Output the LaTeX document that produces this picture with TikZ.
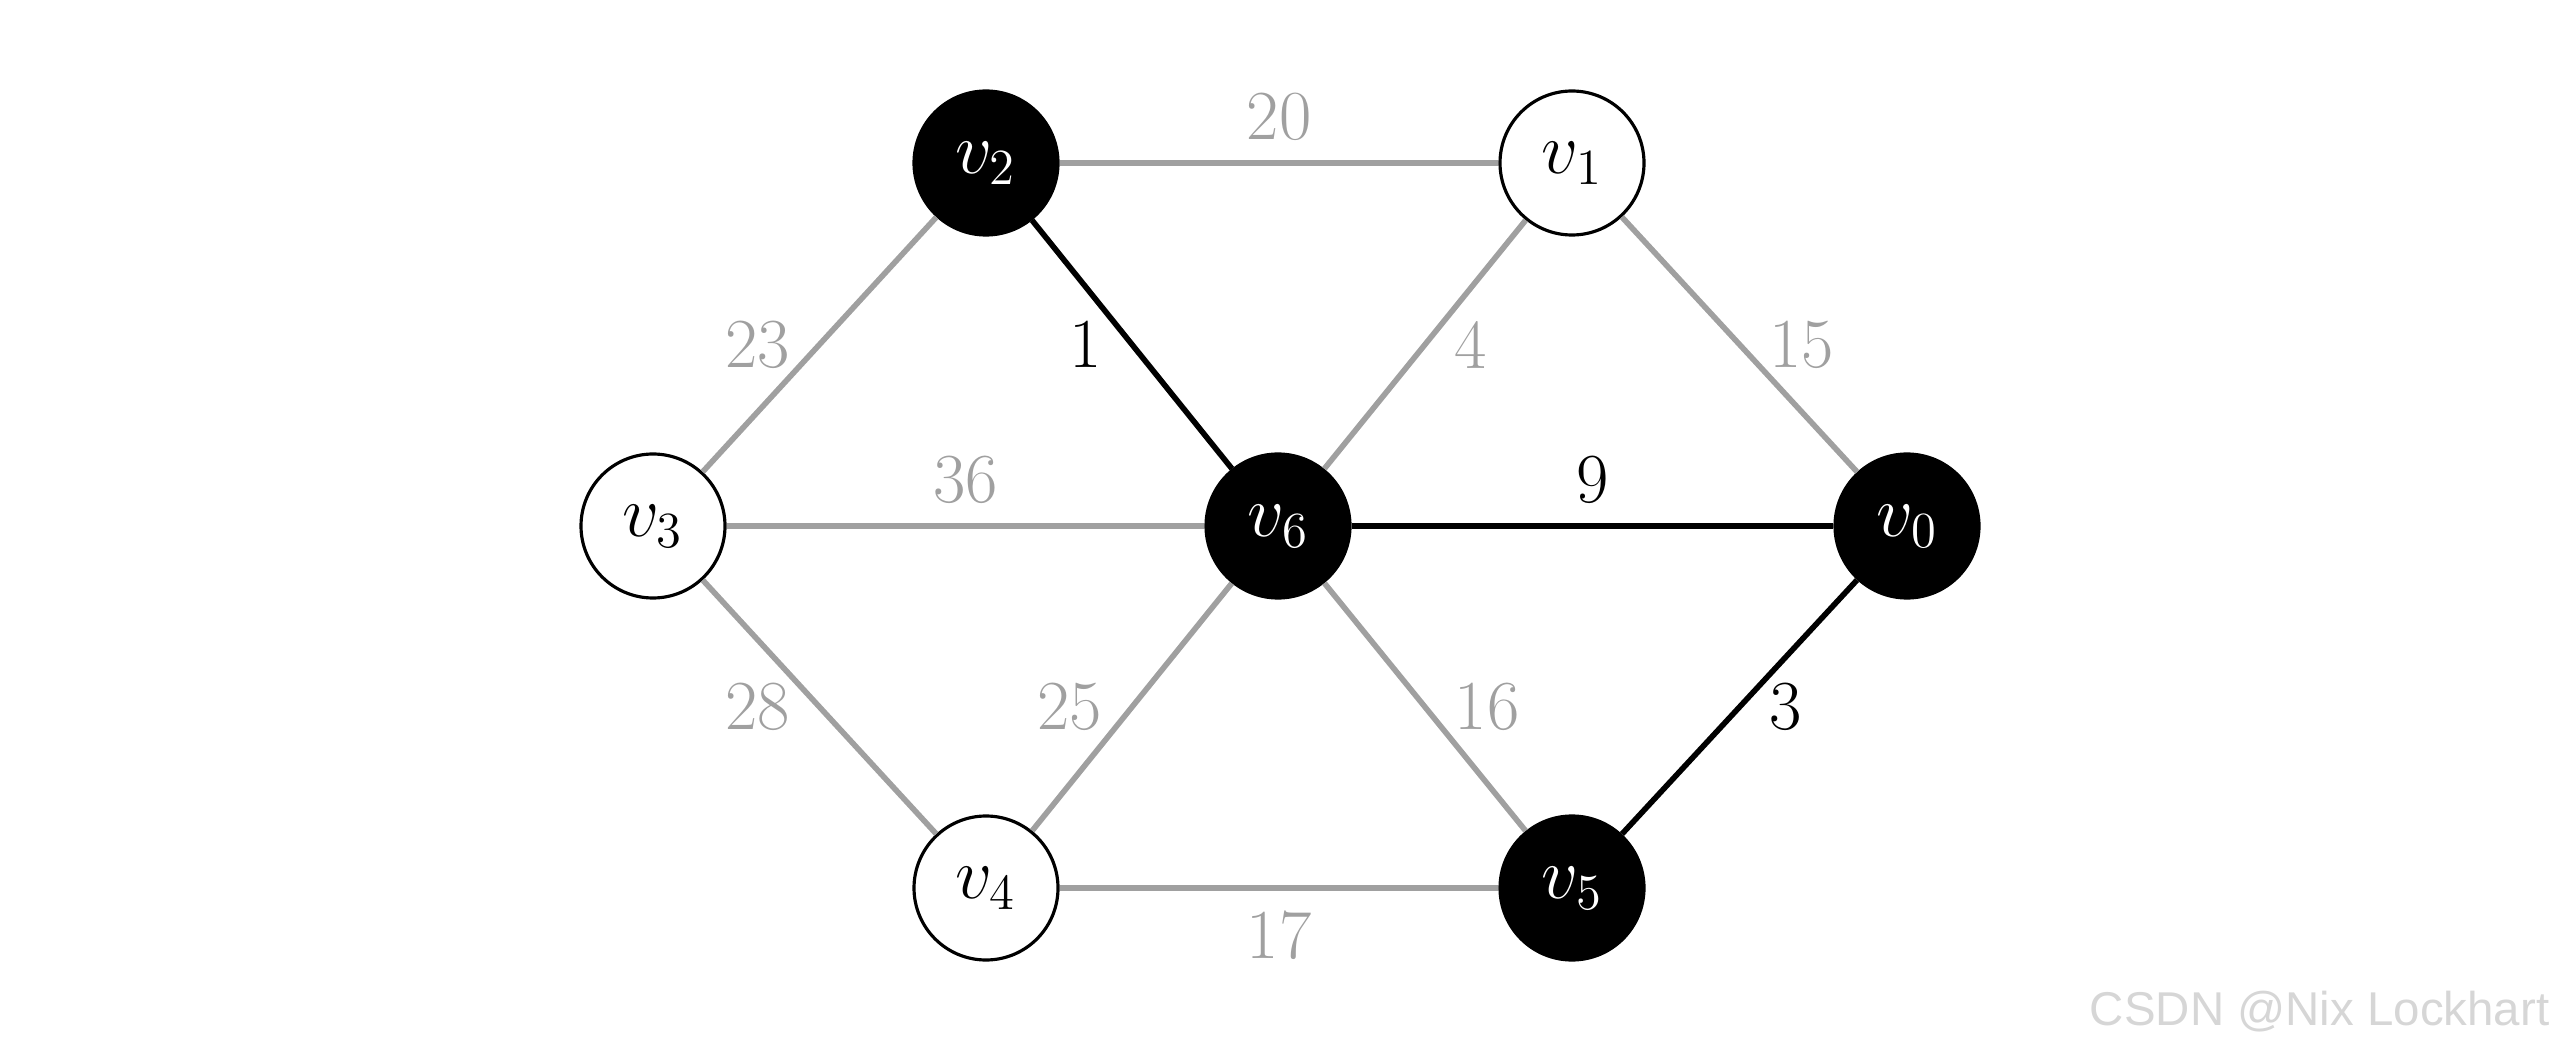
\documentclass[tikz,border=0pt]{standalone}
\usepackage{fontspec}
\usepackage{amsmath}
\usetikzlibrary{positioning}
\newfontfamily\markfont{Liberation Sans}
\definecolor{edgegray}{HTML}{A0A0A0}
\definecolor{markgray}{HTML}{D6D6D6}

\begin{document}
\begin{tikzpicture}[
  every node/.style={font=\fontsize{20}{24}\selectfont},
  vertex/.style={
    circle,
    draw=black,
    line width=0.9pt,
    fill=white,
    minimum size=1.44cm,
    inner sep=0pt
  },
  chosen/.style={vertex, fill=black, text=white},
  edge/.style={draw=edgegray, line width=1.6pt},
  tree/.style={draw=black, line width=1.6pt},
  wlabel/.style={text=edgegray, inner xsep=0.27cm, inner ysep=0.2cm},
  tlabel/.style={text=black, inner xsep=0.27cm, inner ysep=0.2cm}
]
  \useasboundingbox (0,0) rectangle (25.6,10.53);

  \node[chosen] (v2) at (9.86,8.90)  {$v_{2}$};
  \node[vertex] (v1) at (15.72,8.90) {$v_{1}$};
  \node[vertex] (v3) at (6.53,5.27)  {$v_{3}$};
  \node[chosen] (v6) at (12.78,5.27) {$v_{6}$};
  \node[chosen] (v0) at (19.07,5.27) {$v_{0}$};
  \node[vertex] (v4) at (9.86,1.65)  {$v_{4}$};
  \node[chosen] (v5) at (15.72,1.65) {$v_{5}$};

  % gray edges
  \draw[edge] (v2) -- node[wlabel, midway, above] {20} (v1);
  \draw[edge] (v3) -- node[wlabel, midway, left]  {23} (v2);
  \draw[edge] (v6) -- node[wlabel, midway, right] {4}  (v1);
  \draw[edge] (v1) -- node[wlabel, midway, right] {15} (v0);
  \draw[edge] (v3) -- node[wlabel, midway, above] {36} (v6);
  \draw[edge] (v3) -- node[wlabel, midway, left]  {28} (v4);
  \draw[edge] (v4) -- node[wlabel, midway, left]  {25} (v6);
  \draw[edge] (v6) -- node[wlabel, midway, right] {16} (v5);
  \draw[edge] (v4) -- node[wlabel, midway, below] {17} (v5);

  % black edges
  \draw[tree] (v2) -- node[tlabel, midway, left]  {1} (v6);
  \draw[tree] (v6) -- node[tlabel, midway, above] {9} (v0);
  \draw[tree] (v5) -- node[tlabel, midway, right] {3} (v0);

  \node[anchor=east, inner sep=0pt, text=markgray,
        font=\markfont\fontsize{13.5}{16}\selectfont]
    (mark) at (25.5,0.41) {CSDN @Nix Lockhart};
\end{tikzpicture}
\end{document}
